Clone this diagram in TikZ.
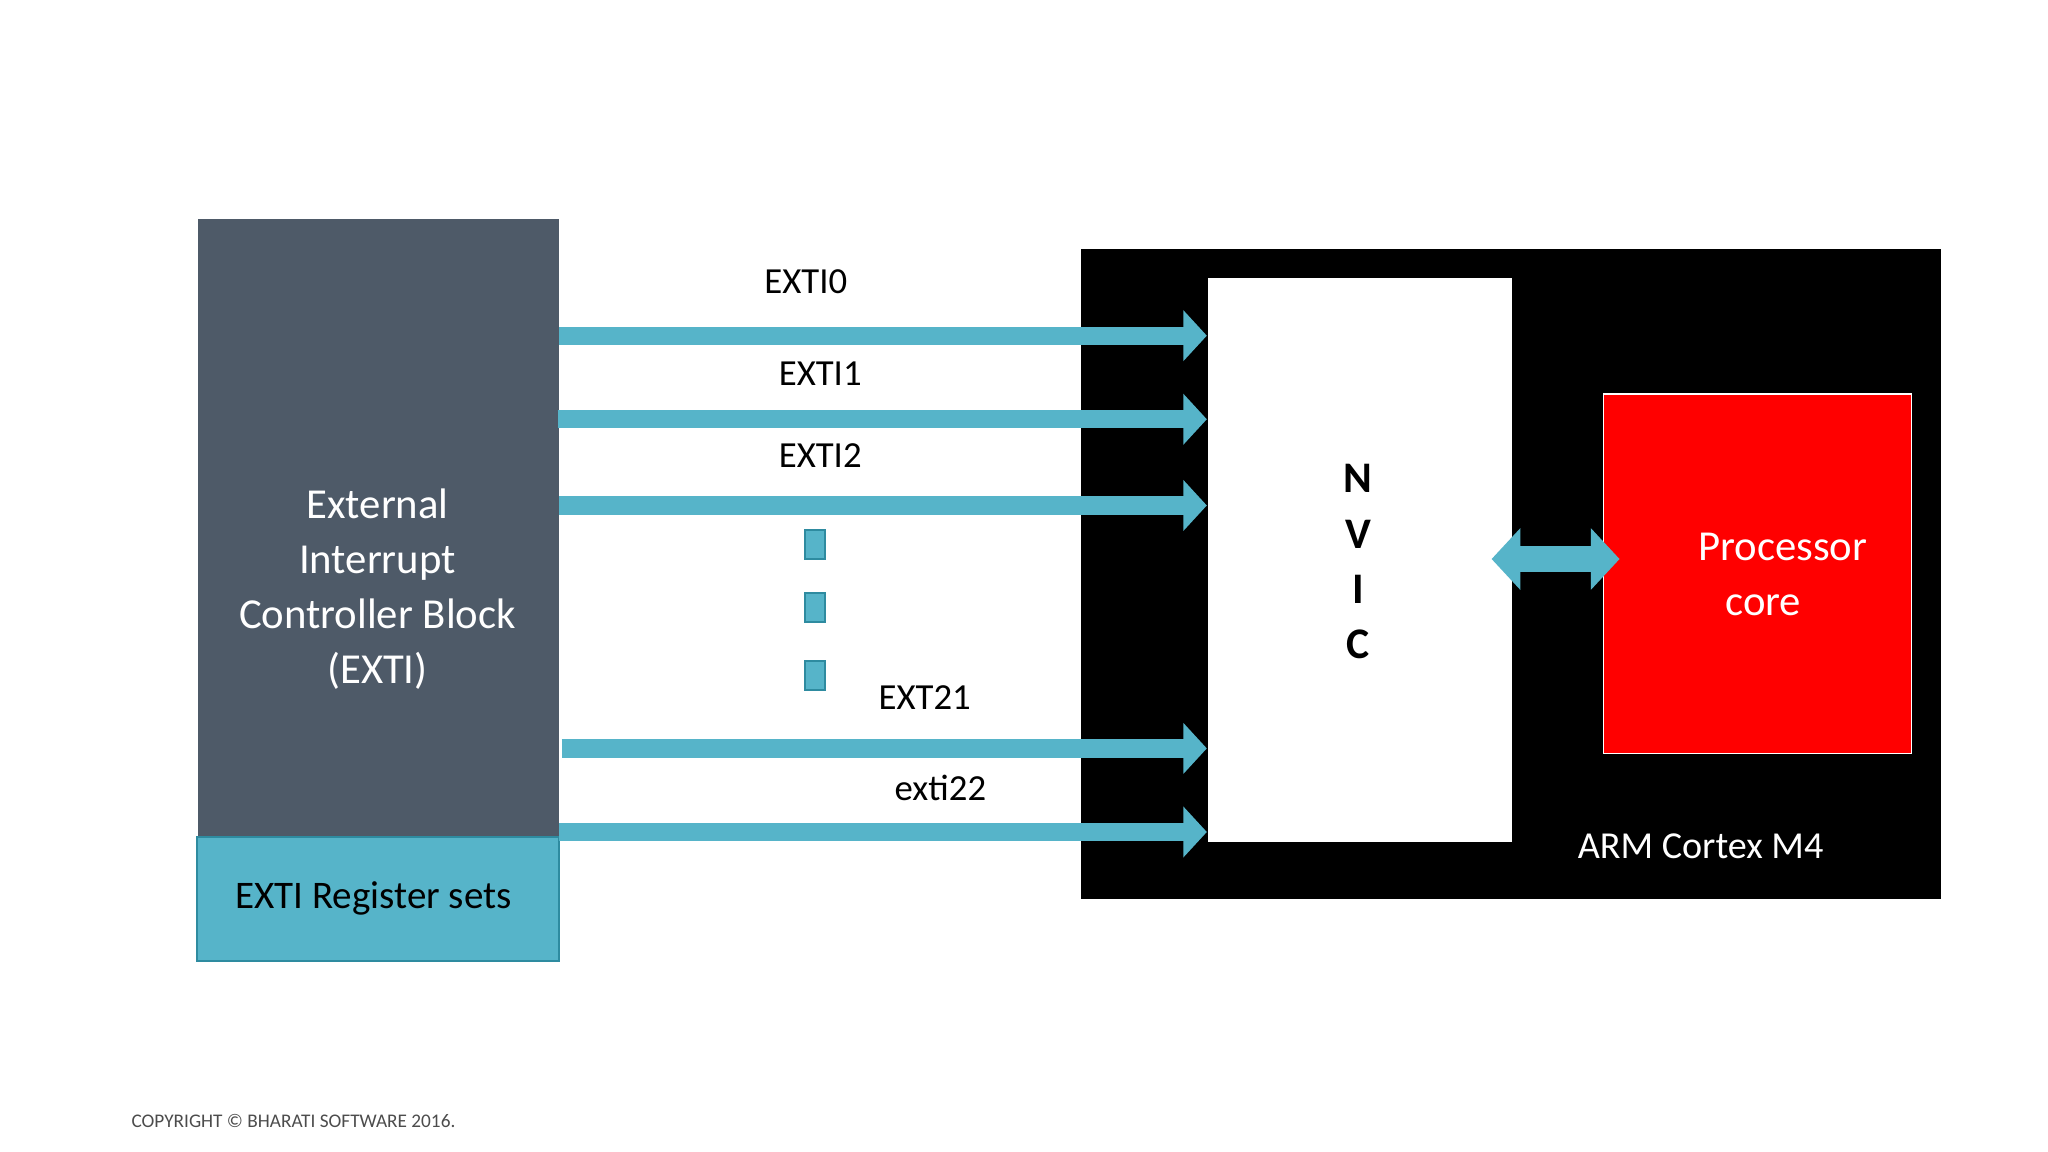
\documentclass[tikz,border=0pt]{standalone}
\usepackage{fontspec}
\setmainfont{Carlito}
\usetikzlibrary{arrows.meta, positioning}
\definecolor{slate}{HTML}{4E5A68}
\definecolor{teal}{HTML}{56B4C9}
\definecolor{tealdark}{HTML}{2E8BA0}
\begin{document}
\begin{tikzpicture}[x=0.01cm,y=-0.01cm,
  lbl/.style={font=\fontsize{8}{10}\selectfont},
  bus/.style={draw=teal,line width=0.14cm,-{Triangle[length=0.18cm,width=0.38cm]}},
  dot/.style={draw=tealdark,fill=teal,minimum width=0.15cm,minimum height=0.22cm,inner sep=0pt}]
\useasboundingbox (0,0) rectangle (1568,882);
% blocks
\node[fill=slate,minimum width=2.76cm,minimum height=4.73cm,anchor=north west,inner sep=0pt] (exti) at (151,167) {};
\node[text=white,align=center,font=\fontsize{9.3}{12}\selectfont] at (289,451) {External\\Interrupt\\Controller Block\\(EXTI)};
\node[draw=tealdark,fill=teal,minimum width=2.77cm,minimum height=0.95cm,anchor=north west,inner sep=0pt] (regs) at (150,640) {};
\node[font=\fontsize{8.5}{10}\selectfont] at (286,688) {EXTI Register sets};
\node[fill=black,minimum width=6.58cm,minimum height=4.97cm,anchor=north west,inner sep=0pt] (arm) at (827,190) {};
\node[fill=white,minimum width=2.33cm,minimum height=4.32cm,anchor=north west,inner sep=0pt] (nvic) at (924,212) {};
\node[align=center,font=\fontsize{9.5}{12}\selectfont\bfseries] at (1040,430) {N\\V\\I\\C};
\node[fill=red,draw=white,line width=0.3pt,minimum width=2.36cm,minimum height=2.75cm,anchor=north west,inner sep=0pt] (core) at (1227,301) {};
\node[text=white,align=center,font=\fontsize{9.3}{12}\selectfont] at (1350,440) {\hspace*{0.3cm}Processor\\core};
\node[text=white,font=\fontsize{8.3}{10}\selectfont] at (1302,648) {ARM Cortex M4};
% interrupt lines
\foreach \n/\y/\xs in {0/257/428,1/321/427,2/387/428,21/573/430,22/637/428}{
  \coordinate (s\n) at (\xs,\y);
  \coordinate (e\n) at (924,\y);
  \draw[bus] (s\n) -- (e\n);
}
\node[lbl] at (617,216) {EXTI0};
\node[lbl] at (628,286) {EXTI1};
\node[lbl] at (628,349) {EXTI2};
\node[lbl] at (708,534) {EXT21};
\node[lbl] at (720,603) {exti22};
\foreach \y [count=\i] in {417,465,517}
  \node[dot] (d\i) at (624,\y) {};
% nvic <-> core
\coordinate (nl) at (1142,428);
\coordinate (cr) at (1240,428);
\draw[draw=teal,line width=0.2cm,{Triangle[length=0.22cm,width=0.46cm]}-{Triangle[length=0.22cm,width=0.46cm]}] (nl) -- (cr);
\node[anchor=west,inner sep=0pt,text=black!70,font=\fontsize{4.2}{5}\selectfont] at (100,858) {COPYRIGHT © BHARATI SOFTWARE 2016.};
\end{tikzpicture}
\end{document}
